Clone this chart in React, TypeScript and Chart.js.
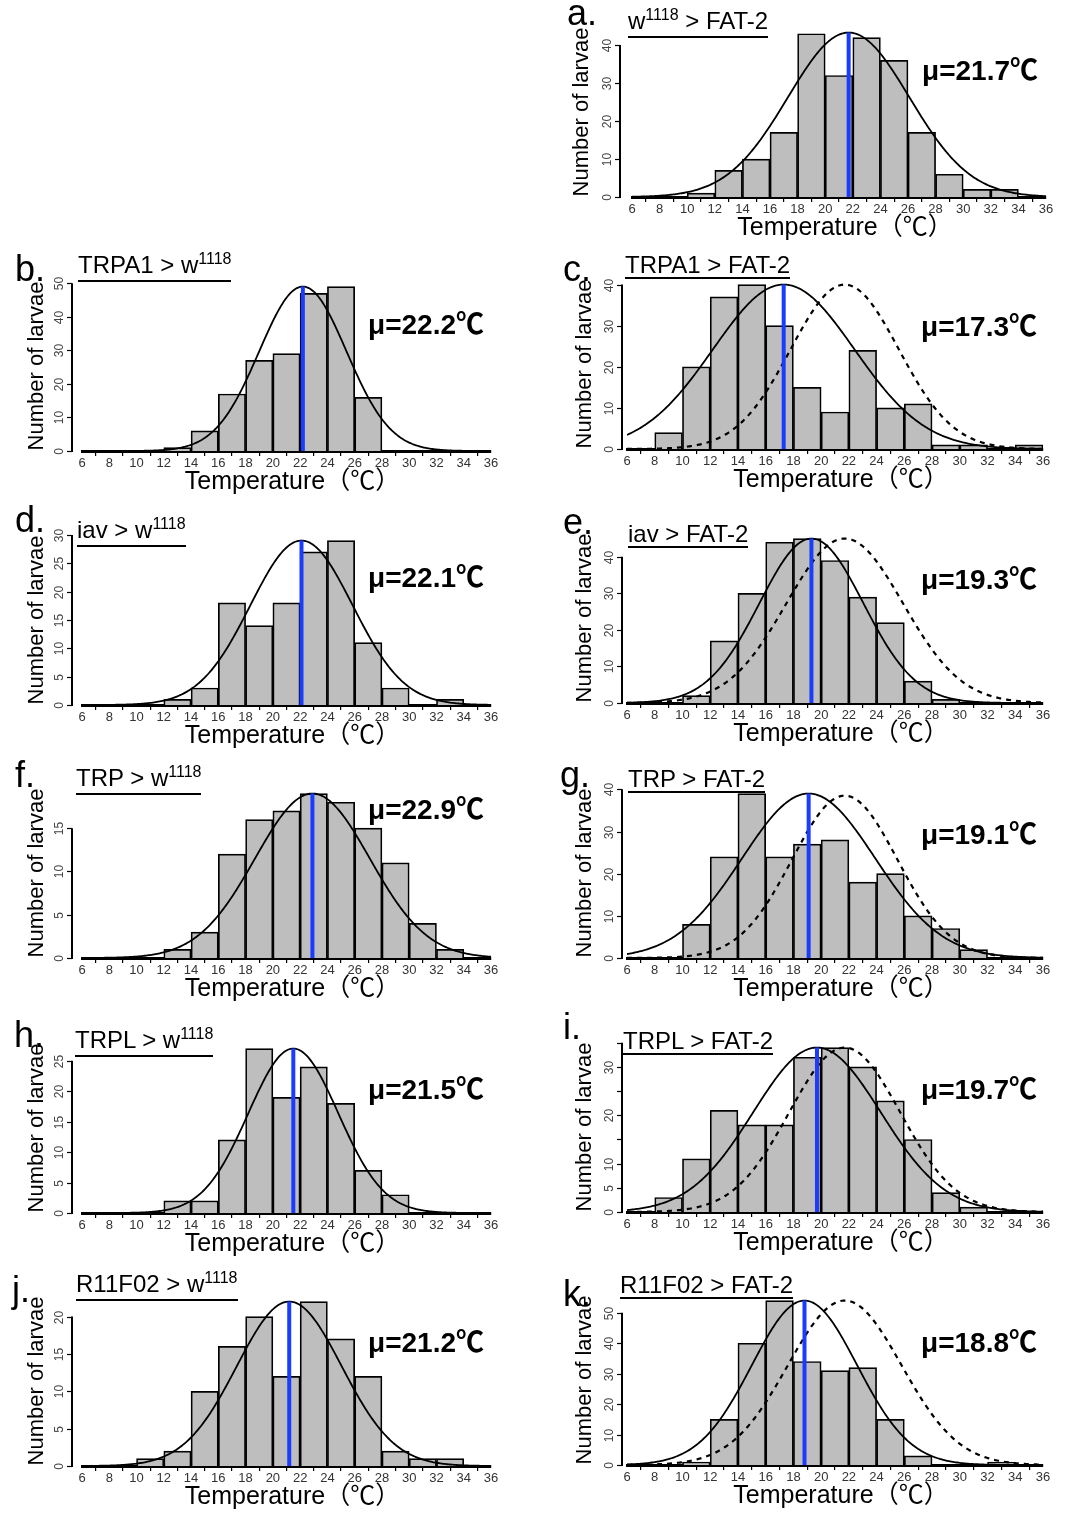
import React, { useEffect, useRef } from 'react';
import { Chart, registerables } from 'chart.js';

Chart.register(...registerables);

const FONT = '"Liberation Sans", "Noto Sans CJK SC", Arial, sans-serif';

// ---------- data ----------
const binCenters = [7, 9, 11, 13, 15, 17, 19, 21, 23, 25, 27, 29, 31, 33, 35];
const xTickValues = [6, 8, 10, 12, 14, 16, 18, 20, 22, 24, 26, 28, 30, 32, 34, 36];

const panelLetters = ['a', 'b', 'c', 'd', 'e', 'f', 'g', 'h', 'i', 'j', 'k'];
const titleMain = ['w', 'TRPA1 > w', 'TRPA1 > FAT-2', 'iav > w', 'iav > FAT-2', 'TRP > w', 'TRP > FAT-2', 'TRPL > w', 'TRPL > FAT-2', 'R11F02 > w', 'R11F02 > FAT-2'];
const titleSup = ['1118', '1118', '', '1118', '', '1118', '', '1118', '', '1118', ''];
const titleTail = [' > FAT-2', '', '', '', '', '', '', '', '', '', ''];

const countsA = [0, 0, 1, 7, 10, 17, 43, 32, 42, 36, 17, 6, 2, 2, 0];
const countsB = [0, 0, 0, 1, 6, 17, 27, 29, 47, 49, 16, 0, 0, 0, 0];
const countsC = [0, 4, 20, 37, 40, 30, 15, 9, 24, 10, 11, 1, 1, 0, 1];
const countsD = [0, 0, 0, 1, 3, 18, 14, 18, 27, 29, 11, 3, 0, 1, 0];
const countsE = [0, 0, 2, 17, 30, 44, 45, 39, 29, 22, 6, 1, 0, 0, 0];
const countsF = [0, 0, 0, 1, 3, 12, 16, 17, 19, 18, 15, 11, 4, 1, 0];
const countsG = [0, 0, 8, 24, 39, 24, 27, 28, 18, 20, 10, 7, 2, 0, 0];
const countsH = [0, 0, 0, 2, 2, 12, 27, 19, 24, 18, 7, 3, 0, 0, 0];
const countsI = [0, 3, 11, 21, 18, 18, 32, 34, 30, 23, 15, 4, 1, 0, 0];
const countsJ = [0, 0, 1, 2, 10, 16, 20, 12, 22, 17, 12, 2, 1, 1, 0];
const countsK = [0, 0, 1, 15, 40, 54, 34, 31, 32, 15, 3, 0, 0, 1, 0];
const counts = [countsA, countsB, countsC, countsD, countsE, countsF, countsG, countsH, countsI, countsJ, countsK];

const means = [21.7, 22.2, 17.3, 22.1, 19.3, 22.9, 19.1, 21.5, 19.7, 21.2, 18.8];
const sds = [4.4, 3.2, 5.1, 3.75, 3.75, 4.2, 4.8, 3.3, 4.6, 3.85, 3.8];
const curvePeaks = [43.3, 49, 40, 29, 45, 19, 39, 27, 34, 22, 54];
const controlMean = 21.7;
const controlSds = [0, 0, 3.9, 0, 4.2, 0, 3.8, 0, 4.0, 0, 4.1];
const controlPeaks = [0, 0, 40, 0, 45, 0, 38.5, 0, 34, 0, 54];

const yTicks = [
  [0, 10, 20, 30, 40],
  [0, 10, 20, 30, 40, 50],
  [0, 10, 20, 30, 40],
  [0, 5, 10, 15, 20, 25, 30],
  [0, 10, 20, 30, 40],
  [0, 5, 10, 15],
  [0, 10, 20, 30, 40],
  [0, 5, 10, 15, 20, 25],
  [0, 5, 10, 15, 20, 25, 30, 35],
  [0, 5, 10, 15, 20],
  [0, 10, 20, 30, 40, 50],
];
const yTickLabels = [
  ['0', '10', '20', '30', '40'],
  ['0', '10', '20', '30', '40', '50'],
  ['0', '10', '20', '30', '40'],
  ['0', '5', '10', '15', '20', '25', '30'],
  ['0', '10', '20', '30', '40'],
  ['0', '5', '10', '15'],
  ['0', '10', '20', '30', '40'],
  ['0', '5', '10', '15', '20', '25'],
  ['0', '5', '10', '', '20', '', '30', ''],
  ['0', '5', '10', '15', '20'],
  ['0', '10', '20', '30', '40', '50'],
];

const yTitle = 'Number of larvae';
const xTitle = 'Temperature（℃）';

// ---------- layout (page pixels) ----------
type Lay = {
  colX: number; colW: number; left: number; right: number; zeroY: number; gap: number;
  letter: [number, number]; title: [number, number]; mu: [number, number]; yTitleX: number; xTitleDy: number;
};
const L = (colX: number, colW: number, left: number, right: number, zeroY: number, gap: number,
  letter: [number, number], title: [number, number], mu: [number, number], yTitleX: number, xTitleDy: number): Lay =>
  ({ colX, colW, left, right, zeroY, gap, letter, title, mu, yTitleX, xTitleDy });

const layouts: Lay[] = [
  L(545, 520, 632, 1046, 197, 12, [567, 26], [628, 29], [922, 81], 581, 38),
  L(0, 540, 82, 491, 451, 10, [15, 282], [78, 273], [368, 335], 36, 38),
  L(545, 520, 627, 1043, 449, 5, [563, 282], [625, 273], [921, 337], 584, 38),
  L(0, 540, 82, 491, 705, 10, [15, 533], [77, 538], [368, 588], 36, 38),
  L(545, 520, 627, 1043, 703, 5, [563, 535], [628, 542], [921, 590], 584, 38),
  L(0, 540, 82, 491, 958, 10, [15, 788], [76, 786], [368, 820], 36, 38),
  L(545, 520, 627, 1043, 958, 5, [560, 788], [628, 787], [921, 845], 584, 38),
  L(0, 540, 82, 491, 1213, 10, [14, 1048], [75, 1048], [368, 1100], 36, 38),
  L(545, 520, 627, 1043, 1212, 5, [563, 1040], [623, 1049], [921, 1100], 584, 38),
  L(0, 540, 82, 491, 1466, 10, [12, 1303], [76, 1292], [368, 1353], 36, 38),
  L(545, 520, 627, 1043, 1465, 5, [563, 1307], [620, 1293], [921, 1353], 584, 38),
];

const PLOT_H = 171;
const CANVAS_ABOVE = 200;
const CANVAS_H = 240;
const XAXIS_H = 32;

const curveXs: number[] = [];
for (let i = 0; i <= 300; i++) curveXs.push(6 + i * 0.1);

function normalCurve(mu: number, sd: number, peak: number) {
  return curveXs.map((x) => ({ x, y: peak * Math.exp(-((x - mu) * (x - mu)) / (2 * sd * sd)) }));
}

function PanelChart({ idx }: { idx: number }) {
  const ref = useRef<HTMLCanvasElement | null>(null);
  const lay = layouts[idx];
  useEffect(() => {
    if (!ref.current) return;
    const c = counts[idx];
    const mu = means[idx];
    const peak = curvePeaks[idx];
    const hasCtrl = controlSds[idx] > 0;
    const yMax = 1.04 * Math.max(Math.max(...c), peak, controlPeaks[idx]);
    const ticks = yTicks[idx];
    const labels = yTickLabels[idx];

    const rAxis = {
      id: 'rAxis',
      afterDatasetsDraw(chart: any) {
        const { ctx, chartArea } = chart;
        const y = chart.scales.y;
        const ax = chartArea.left - lay.gap;
        ctx.save();
        ctx.strokeStyle = '#000';
        ctx.lineWidth = 2;
        ctx.beginPath();
        ctx.moveTo(ax, y.getPixelForValue(0) + 1);
        ctx.lineTo(ax, y.getPixelForValue(ticks[ticks.length - 1]));
        ctx.stroke();
        ctx.lineWidth = 1.2;
        ctx.fillStyle = '#444';
        ctx.font = '12px ' + FONT;
        ctx.textAlign = 'center';
        ctx.textBaseline = 'middle';
        ticks.forEach((v, i) => {
          const py = Math.round(y.getPixelForValue(v)) + 0.5;
          ctx.beginPath();
          ctx.moveTo(ax, py);
          ctx.lineTo(ax - 5, py);
          ctx.stroke();
          if (labels[i]) {
            ctx.save();
            ctx.translate(ax - 12, py);
            ctx.rotate(-Math.PI / 2);
            ctx.fillText(labels[i], 0, 0);
            ctx.restore();
          }
        });
        ctx.restore();
      },
    };

    const datasets: any[] = [
      {
        type: 'line', data: [{ x: mu, y: 0 }, { x: mu, y: peak }], borderColor: '#1a3cff', borderWidth: 4,
        pointRadius: 0, order: 0,
      },
      {
        type: 'line', data: normalCurve(mu, sds[idx], peak), borderColor: '#000', borderWidth: 1.8,
        pointRadius: 0, tension: 0, order: 1,
      },
    ];
    if (hasCtrl) {
      datasets.push({
        type: 'line', data: normalCurve(controlMean, controlSds[idx], controlPeaks[idx]), borderColor: '#000',
        borderWidth: 2.2, borderDash: [5, 5], pointRadius: 0, tension: 0, order: 2,
      });
    }
    datasets.push({
      type: 'bar', data: binCenters.map((x, i) => ({ x, y: c[i] })), backgroundColor: '#bebebe',
      borderColor: '#000', borderWidth: 1.7, barPercentage: 1, categoryPercentage: 1, order: 3,
    });

    const chart = new Chart(ref.current, {
      type: 'bar',
      data: { datasets },
      options: {
        animation: false,
        responsive: false,
        devicePixelRatio: 1,
        events: [],
        layout: {
          padding: {
            left: lay.left - lay.colX,
            right: lay.colX + lay.colW - lay.right,
            top: CANVAS_ABOVE - PLOT_H,
            bottom: CANVAS_H - CANVAS_ABOVE - XAXIS_H,
          },
        },
        plugins: { legend: { display: false }, tooltip: { enabled: false } },
        scales: {
          x: {
            type: 'linear', min: 6, max: 36, offset: false,
            afterBuildTicks: (s: any) => { s.ticks = xTickValues.map((v) => ({ value: v })); },
            afterFit: (s: any) => { s.height = XAXIS_H; s.paddingLeft = 0; s.paddingRight = 0; },
            grid: { display: true, drawOnChartArea: false, drawTicks: true, tickLength: 5, color: '#000', lineWidth: 1.2 },
            border: { display: true, color: '#000', width: 3 },
            ticks: {
              autoSkip: false, maxRotation: 0, minRotation: 0, padding: 0, color: '#333',
              font: { size: 13, family: FONT },
            },
          },
          y: { type: 'linear', min: 0, max: yMax, display: false },
        },
      } as any,
      plugins: [rAxis as any],
    });
    return () => chart.destroy();
  }, [idx]);

  return (
    <canvas
      ref={ref}
      width={lay.colW}
      height={CANVAS_H}
      style={{ position: 'absolute', left: lay.colX, top: lay.zeroY - CANVAS_ABOVE, width: lay.colW, height: CANVAS_H }}
    />
  );
}

function PanelText({ idx }: { idx: number }) {
  const lay = layouts[idx];
  const abs = (x: number, baseline: number, fs: number, extra: React.CSSProperties = {}) => ({
    position: 'absolute' as const, left: x, top: baseline - 0.85 * fs, fontSize: fs, lineHeight: fs + 'px',
    fontFamily: FONT, color: '#000', whiteSpace: 'nowrap' as const, ...extra,
  });
  const chartW = lay.right - lay.left;
  return (
    <>
      <div style={abs(lay.letter[0], lay.letter[1], 36)}>{panelLetters[idx] + '.'}</div>
      <div style={abs(lay.title[0], lay.title[1], 24)}>
        <span style={{ display: 'inline-block', borderBottom: '2px solid #000', lineHeight: '24px' }}>
          {titleMain[idx]}
          {titleSup[idx] ? (
            <span style={{ fontSize: 16, position: 'relative', top: -9 }}>{titleSup[idx]}</span>
          ) : null}
          {titleTail[idx]}
        </span>
      </div>
      <div style={abs(lay.mu[0], lay.mu[1], 28, { fontWeight: 'bold' })}>{'μ=' + means[idx].toFixed(1) + '℃'}</div>
      <div style={abs(lay.left - 22, lay.zeroY + lay.xTitleDy, 25, { width: chartW + 56, textAlign: 'center' })}>{xTitle}</div>
      <div
        style={{
          position: 'absolute', left: lay.yTitleX, top: lay.zeroY - PLOT_H / 2, fontSize: 22, lineHeight: '22px',
          fontFamily: FONT, whiteSpace: 'nowrap', transform: 'translate(-50%, -50%) rotate(-90deg)',
        }}
      >
        {yTitle}
      </div>
    </>
  );
}

export default function App() {
  return (
    <div style={{ position: 'absolute', left: 0, top: 0, width: 1065, height: 1513, overflow: 'hidden', background: '#fff' }}>
      {panelLetters.map((_, i) => (
        <PanelChart key={'c' + i} idx={i} />
      ))}
      {panelLetters.map((_, i) => (
        <PanelText key={'t' + i} idx={i} />
      ))}
    </div>
  );
}
